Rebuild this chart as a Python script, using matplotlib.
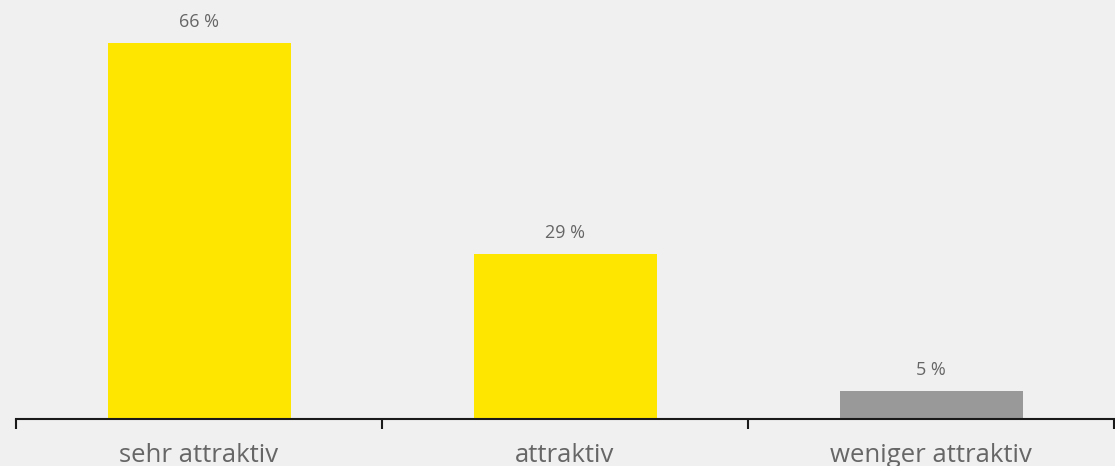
import matplotlib.pyplot as plt

categories = ["sehr attraktiv", "attraktiv", "weniger attraktiv"]
values = [66, 29, 5]
bar_colors = ["#ffe600", "#ffe600", "#999999"]

plt.rcParams['font.family'] = ['Open Sans', 'DejaVu Sans']

fig = plt.figure(figsize=(11.15, 4.66), dpi=100, facecolor="#f0f0f0")
ax = fig.add_axes([16 / 1115, 47 / 466, 1098 / 1115, 419 / 466])
ax.set_facecolor("#f0f0f0")

x = range(len(categories))
bars = ax.bar(x, values, width=0.5, color=bar_colors)

for b, v in zip(bars, values):
    ax.annotate(f"{v} %", (b.get_x() + b.get_width() / 2, v),
                xytext=(0, 11.5), textcoords="offset points",
                ha="center", va="baseline", fontsize=13, color="#666666")

ax.set_xlim(-0.5, 2.5)
ax.set_ylim(0, 73.55)

for s in ["top", "right", "left"]:
    ax.spines[s].set_visible(False)
ax.spines["bottom"].set_color("#1a1a1a")
ax.spines["bottom"].set_linewidth(1.5)

ax.set_yticks([])
ax.set_xticks([-0.5, 0.5, 1.5, 2.5])
ax.set_xticklabels([])
ax.tick_params(axis="x", length=7, width=1.5, color="#1a1a1a", direction="out")
ax.set_xticks(list(x), minor=True)
ax.set_xticklabels(categories, minor=True, fontsize=18.5, color="#666666")
ax.tick_params(axis="x", which="minor", length=0, pad=17)

fig.savefig("out.png", dpi=100, facecolor="#f0f0f0")
